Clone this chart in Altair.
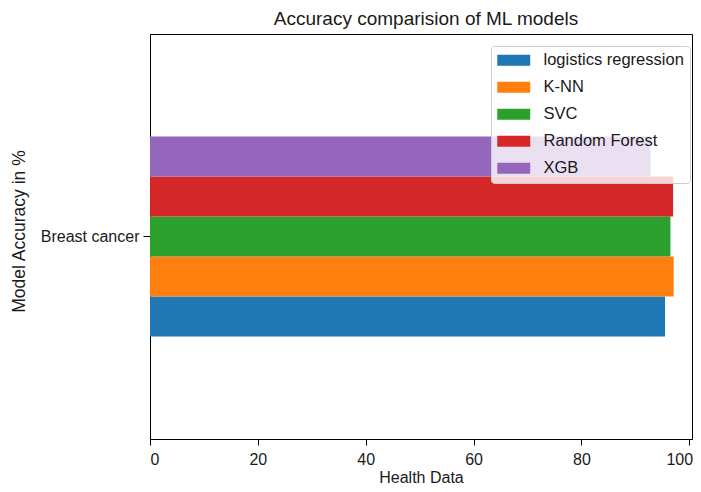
import altair as alt
import pandas as pd

# ---- data ----
datasets = ["Breast cancer"]
models = ["logistics regression", "K-NN", "SVC", "Random Forest", "XGB"]
accuracy = [95.5, 97.1, 96.5, 97.0, 92.8]
colors = ["#1f77b4", "#ff7f0e", "#2ca02c", "#d62728", "#9467bd"]
x_ticks = [0, 20, 40, 60, 80, 100]
x_max = 100.5

df = pd.DataFrame({
    "dataset": datasets * len(models),
    "model": models,
    "accuracy": accuracy,
})

FONT = "Liberation Sans"
TXT = "#1a1a1a"

chart = alt.Chart(df).mark_bar(strokeWidth=0).encode(
    x=alt.X(
        "accuracy:Q",
        title="Health Data",
        scale=alt.Scale(domain=[0, x_max], nice=False, zero=True),
        axis=alt.Axis(
            values=x_ticks, grid=False, format="d",
            labelFont=FONT, labelFontSize=16, labelColor=TXT, labelPadding=6,
            labelOffset=alt.condition("datum.value == 100", alt.value(-10), alt.value(0)),
            tickColor="black", tickSize=6, domainColor="black",
            titleFont=FONT, titleFontSize=16, titleFontWeight="normal", titleColor=TXT,
            titleY=43, titleBaseline="alphabetic",
        ),
    ),
    y=alt.Y(
        "dataset:N",
        title="Model Accuracy in %",
        scale=alt.Scale(paddingInner=0, paddingOuter=0.5125),
        axis=alt.Axis(
            grid=False,
            labelFont=FONT, labelFontSize=16, labelColor=TXT, labelPadding=4,
            tickColor="black", tickSize=7, domainColor="black",
            titleFont=FONT, titleFontSize=17.5, titleFontWeight="normal", titleColor=TXT,
            titleX=-131, titleY=197, titleAngle=270, titleBaseline="middle", titleAlign="center",
        ),
    ),
    yOffset=alt.YOffset(
        "model:N",
        scale=alt.Scale(domain=models[::-1], paddingInner=0, paddingOuter=0),
    ),
    color=alt.Color(
        "model:N",
        scale=alt.Scale(domain=models, range=colors),
        legend=alt.Legend(
            title=None, orient="none", legendX=341, legendY=12,
            fillColor="rgba(255,255,255,0.8)", strokeColor="#cccccc", cornerRadius=3,
            padding=6, rowPadding=10,
            symbolType="M-2.06,-0.69H2.06V0.69H-2.06Z", symbolSize=256, symbolStrokeWidth=0,
            symbolOffset=8.5, symbolOpacity=1,
            labelFont=FONT, labelFontSize=16.5, labelColor=TXT, labelOffset=21.5,
        ),
    ),
).properties(
    width=542,
    height=405,
    title=alt.Title(
        "Accuracy comparision of ML models",
        font=FONT, fontSize=19, fontWeight="normal", color=TXT,
        anchor="middle", frame="group", offset=5, dx=5,
    ),
    autosize=alt.AutoSizeParams(type="none"),
    padding={"left": 142, "top": 26, "right": 1, "bottom": 45},
).configure_view(stroke="black", strokeWidth=1)

chart.save("out.html", embed_options={"renderer": "svg", "actions": False})
